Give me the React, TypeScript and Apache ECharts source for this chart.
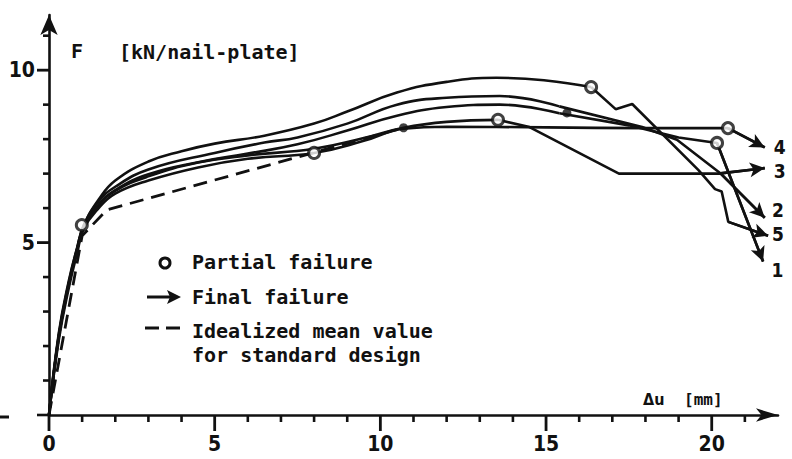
import React, { useEffect, useRef } from "react";
import * as echarts from "echarts";

// ---- data (Δu in mm, F in kN/nail-plate) ----
const body5 = [[0,0],[0.3,2.4],[0.6,3.9],[0.85,4.85],[1.05,5.5],[1.5,6.25],[2,6.8],[3,7.35],[4,7.65],[5,7.87],[6.5,8.1],[8,8.45],[9,8.8],[10.5,9.35],[12,9.66],[13.5,9.78],[15,9.7],[16.36,9.51]];
const tail5 = [[16.36,9.51],[17.1,8.87],[17.6,9.02],[19.6,7.1],[20.1,6.55],[20.3,6.48],[20.5,5.6],[21.7,5.2]];
const body2 = [[0,0],[0.3,2.35],[0.6,3.85],[0.85,4.85],[1.05,5.5],[1.5,6.2],[2,6.62],[3,7.12],[5,7.6],[6.5,7.9],[7.5,8.05],[9,8.45],[10.5,9.0],[12,9.2],[13.6,9.25],[15.4,8.95]];
const tail2 = [[15.4,8.95],[17.9,8.35],[18.95,7.98],[20.25,7.02],[21.6,5.72]];
const body1 = [[0,0],[0.3,2.3],[0.6,3.8],[0.85,4.8],[1.05,5.45],[1.5,6.1],[2,6.52],[3,6.98],[4.5,7.33],[6,7.58],[7.5,7.85],[9,8.25],[10.5,8.68],[12,8.93],[13.6,9.0],[15.4,8.75]];
const tail1 = [[15.4,8.75],[17.5,8.4],[19,8.05],[20.16,7.89],[21.55,4.45]];
const body3 = [[0,0],[0.3,2.3],[0.6,3.8],[0.85,4.8],[1.05,5.45],[1.5,6.08],[2,6.5],[3,6.92],[4.5,7.32],[6,7.53],[8,7.72],[9.5,8.03],[10.7,8.33],[12,8.5],[13.55,8.56]];
const tail3 = [[13.55,8.56],[14.5,8.35],[17.2,7.0],[20.2,7.0],[21.6,7.16]];
const body4 = [[0,0],[0.3,2.2],[0.6,3.7],[0.85,4.7],[1.05,5.4],[1.5,6.0],[2,6.42],[3,6.8],[4.5,7.18],[6,7.43],[8,7.6],[9.5,7.95],[10.7,8.3],[12,8.36],[15,8.34],[18,8.32],[20.49,8.32]];
const tail4 = [[20.49,8.32],[21.6,7.76]];
const idealized = [[0,0],[1.0,5.2],[1.75,5.95],[10.7,8.33]];
const partialFailures = [[0.99,5.51],[8.0,7.6],[13.55,8.56],[16.36,9.51],[20.16,7.89],[20.49,8.32]];
const filledPoints = [[10.7,8.33],[15.63,8.76]];
const curveLabels = [[22.05,7.77,"4"],[22.05,7.08,"3"],[22.0,5.95,"2"],[22.0,5.25,"5"],[21.98,4.2,"1"]];
const xMajorTicks = [0,5,10,15,20];
const xMinorTicks = [1,2,3,4,6,7,8,9,11,12,13,14,16,17,18,19,21];
const yMajorTicks = [5,10];
const yMinorTicks = [1,2,3,4,6,7,8,9,11];

const INK = "#111";
const MONO = "'DejaVu Sans Mono', monospace";
const NUM = "'Liberation Sans Narrow', 'DejaVu Sans Condensed', 'DejaVu Sans', sans-serif";

export default function App() {
  const ref = useRef<HTMLDivElement>(null);
  useEffect(() => {
    const chart = echarts.init(ref.current!, null, { renderer: "svg" });
    const lw = 2.6;
    const curve = (data: number[][]) => ({
      type: "line", data, smooth: 0.45, symbol: "none",
      lineStyle: { color: INK, width: lw }, z: 3, silent: true,
    });
    const tail = (data: number[][]) => ({
      type: "line", data, smooth: false, symbol: "none",
      lineStyle: { color: INK, width: lw }, z: 3, silent: true,
      markLine: {
        silent: true, symbol: ["none", "arrow"], symbolSize: [11, 15],
        label: { show: false }, lineStyle: { color: INK, width: lw, type: "solid" },
        data: [[{ coord: data[data.length - 2] }, { coord: data[data.length - 1] }]],
      },
    });
    const tickSeries = (data: number[][], size: number[], offset: number[]) => ({
      type: "scatter", data, symbol: "rect", symbolSize: size, symbolOffset: offset,
      clip: false, silent: true, z: 1, itemStyle: { color: INK, opacity: 1 },
    });
    chart.setOption({
      animation: false,
      backgroundColor: "#fff",
      grid: { left: 49, right: 14, top: 15, bottom: 44 },
      xAxis: [
        {
          type: "value", min: 0, max: 22, position: "bottom",
          axisLine: { show: true, symbol: ["none", "arrow"], symbolSize: [10, 22], lineStyle: { color: INK, width: 2.6 } },
          axisTick: { show: false },
          axisLabel: { show: true, customValues: xMajorTicks, margin: 18, color: INK, fontFamily: NUM, fontSize: 21, fontWeight: "bold" },
          splitLine: { show: false },
        },
      ],
      yAxis: [
        {
          type: "value", min: 0, max: 11.6, position: "left",
          axisLine: { show: true, symbol: ["none", "arrow"], symbolSize: [13, 20], lineStyle: { color: INK, width: 2.6 } },
          axisTick: { show: false },
          axisLabel: { show: true, customValues: yMajorTicks, margin: 14, color: INK, fontFamily: NUM, fontSize: 21, fontWeight: "bold" },
          splitLine: { show: false },
        },
      ],
      series: [
        // axis tick marks
        tickSeries(xMinorTicks.map((v) => [v, 0]), [2.6, 7], [0, 3.5]),
        tickSeries(xMajorTicks.map((v) => [v, 0]), [2.8, 16], [0, 8]),
        tickSeries(yMinorTicks.map((v) => [0, v]), [6, 2.6], [-3, 0]),
        tickSeries(yMajorTicks.map((v) => [0, v]), [12, 2.8], [-6, 0]),
        {
          type: "line", data: idealized, symbol: "none", silent: true, z: 2,
          lineStyle: { color: INK, width: 2.8, type: [14, 8] },
        },
        curve(body5), tail(tail5),
        curve(body2), tail(tail2),
        curve(body1), tail(tail1),
        curve(body3), tail(tail3),
        curve(body4), tail(tail4),
        {
          type: "scatter", data: partialFailures, symbol: "circle", symbolSize: 11, z: 5, silent: true,
          itemStyle: { color: "#fff", borderColor: INK, borderWidth: 3 },
        },
        {
          type: "scatter", data: filledPoints, symbol: "circle", symbolSize: 9, z: 5, silent: true,
          itemStyle: { color: INK },
        },
        {
          type: "scatter", data: curveLabels, symbol: "circle", symbolSize: 1, clip: false, silent: true, z: 6,
          itemStyle: { opacity: 0 },
          label: {
            show: true, position: "inside", formatter: (p: any) => p.value[2],
            color: INK, opacity: 1, textBorderWidth: 0, fontFamily: NUM, fontSize: 19, fontWeight: "bold",
          },
        },
      ],
      graphic: [
        { type: "line", shape: { x1: 37, y1: 415, x2: 50, y2: 415 }, style: { stroke: INK, lineWidth: 2.6 } },
        { type: "line", shape: { x1: 0, y1: 417, x2: 9, y2: 417 }, style: { stroke: INK, lineWidth: 3 } },
        { type: "text", x: 71, y: 51, style: { text: "F", font: `bold 20px ${MONO}`, fill: INK, textVerticalAlign: "middle" } },
        { type: "text", x: 119, y: 52, style: { text: "[kN/nail-plate]", font: `bold 20px ${MONO}`, fill: INK, textVerticalAlign: "middle" } },
        { type: "text", x: 643, y: 399, style: { text: "Δu", font: `bold 16px ${NUM}`, fill: INK, textVerticalAlign: "middle" } },
        { type: "text", x: 684, y: 399, style: { text: "[mm]", font: `bold 16px ${MONO}`, fill: INK, textVerticalAlign: "middle" } },
        { type: "circle", shape: { cx: 165, cy: 263, r: 5 }, style: { fill: "#fff", stroke: INK, lineWidth: 3 } },
        { type: "text", x: 192, y: 262, style: { text: "Partial failure", font: `bold 20px ${MONO}`, fill: INK, textVerticalAlign: "middle" } },
        { type: "line", shape: { x1: 147, y1: 297, x2: 170, y2: 297 }, style: { stroke: INK, lineWidth: 3 } },
        { type: "polygon", shape: { points: [[181, 297], [167, 290], [170, 297], [167, 304]] }, style: { fill: INK } },
        { type: "text", x: 192, y: 297, style: { text: "Final failure", font: `bold 20px ${MONO}`, fill: INK, textVerticalAlign: "middle" } },
        { type: "line", shape: { x1: 145, y1: 328, x2: 159, y2: 328 }, style: { stroke: INK, lineWidth: 3 } },
        { type: "line", shape: { x1: 166, y1: 328, x2: 180, y2: 328 }, style: { stroke: INK, lineWidth: 3 } },
        { type: "text", x: 192, y: 331, style: { text: "Idealized mean value", font: `bold 20px ${MONO}`, fill: INK, textVerticalAlign: "middle" } },
        { type: "text", x: 192, y: 355, style: { text: "for standard design", font: `bold 20px ${MONO}`, fill: INK, textVerticalAlign: "middle" } },
      ],
    });
    return () => chart.dispose();
  }, []);
  return <div ref={ref} style={{ position: "fixed", left: 0, top: 0, width: 792, height: 459, background: "#fff" }} />;
}
